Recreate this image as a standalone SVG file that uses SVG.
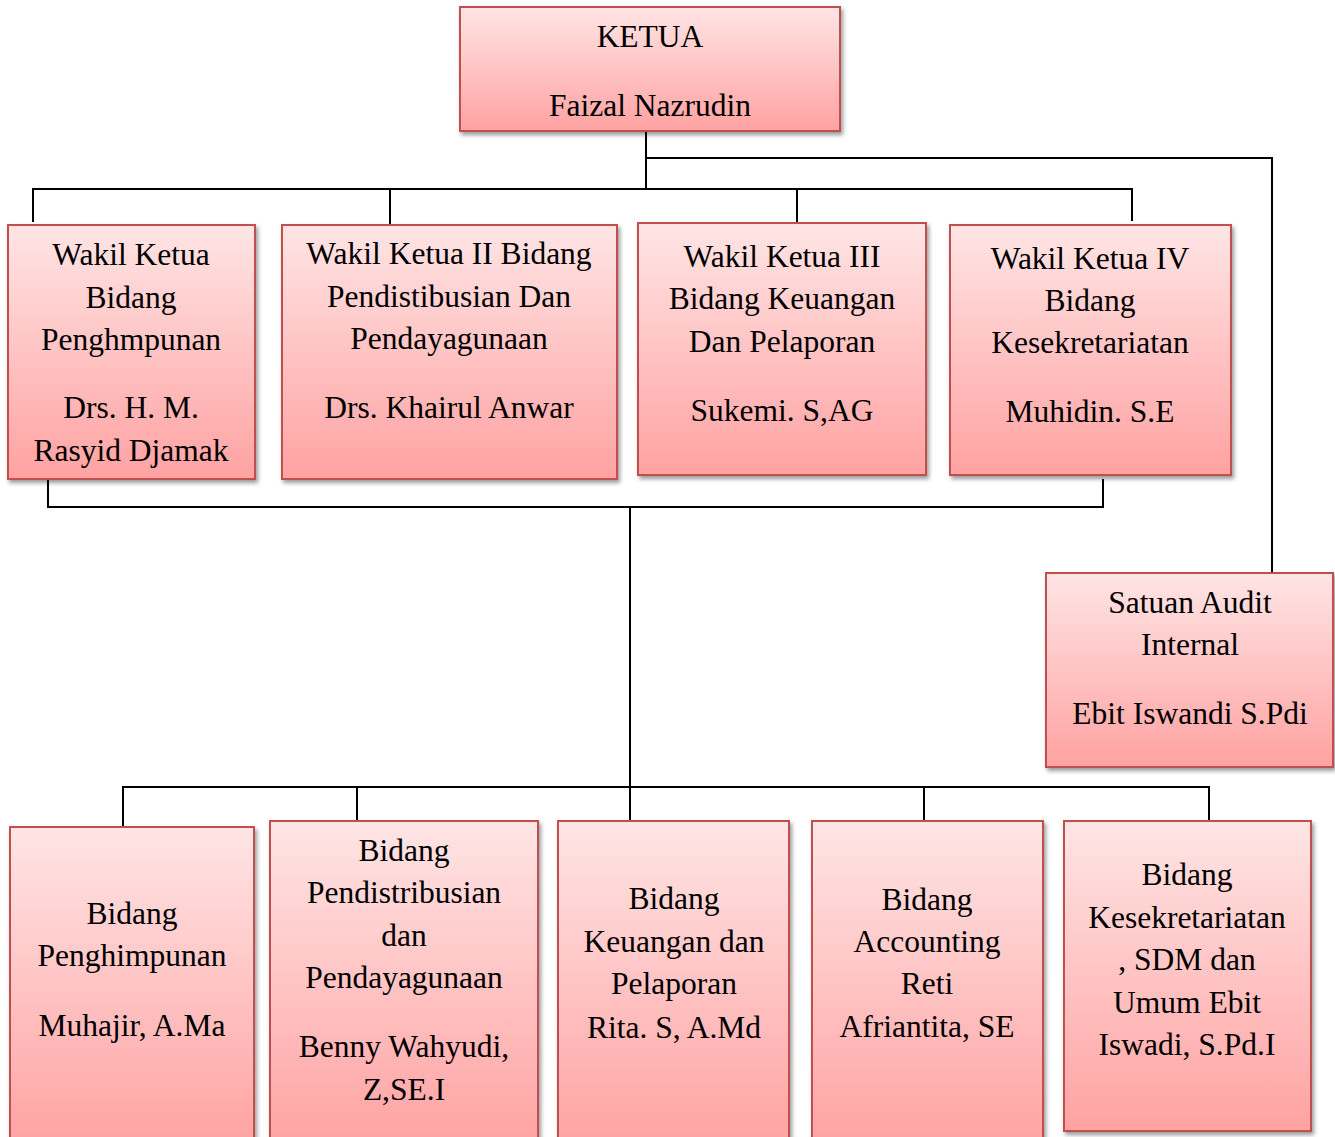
<svg xmlns="http://www.w3.org/2000/svg" width="1335" height="1137" viewBox="0 0 1335 1137">
<defs>
<linearGradient id="g" x1="0" y1="0" x2="0" y2="1">
<stop offset="0" stop-color="#FFE5E5"/>
<stop offset="1" stop-color="#FFA2A2"/>
</linearGradient>
<filter id="sh" x="-10%" y="-10%" width="120%" height="120%">
<feDropShadow dx="2" dy="3" stdDeviation="2" flood-color="#000" flood-opacity="0.4"/>
</filter>
</defs>
<style>
.box{fill:url(#g);stroke:#C0504D;stroke-width:2;filter:url(#sh)}
.t{font-family:"Liberation Serif","Times New Roman",serif;font-size:31.5px;fill:#000;text-anchor:middle}
.c{fill:none;stroke:#000;stroke-width:2}
</style>
<rect width="1335" height="1137" fill="#fff"/>
<g id="connectors">
<path class="c" d="M646,131 V189"/>
<path class="c" d="M646,158 H1272 V573"/>
<path class="c" d="M33,222 V189 H1132 V221"/>
<path class="c" d="M390,189 V225"/>
<path class="c" d="M797,189 V223"/>
<path class="c" d="M48,476 V507 H1103 V479"/>
<path class="c" d="M630,507 V821"/>
<path class="c" d="M123,827 V787 H1209 V821"/>
<path class="c" d="M357,787 V821"/>
<path class="c" d="M924,787 V821"/>
</g>
<g id="ketua">
<rect class="box" x="460" y="7" width="380" height="124"/>
<text class="t" x="650" y="47">KETUA</text>
<text class="t" x="650" y="116">Faizal Nazrudin</text>
</g>
<g id="wakil1">
<rect class="box" x="8" y="225" width="247" height="254"/>
<text class="t" x="131" y="265">Wakil Ketua</text>
<text class="t" x="131" y="308">Bidang</text>
<text class="t" x="131" y="350">Penghmpunan</text>
<text class="t" x="131" y="418">Drs. H. M.</text>
<text class="t" x="131" y="461">Rasyid Djamak</text>
</g>
<g id="wakil2">
<rect class="box" x="282" y="225" width="335" height="254"/>
<text class="t" x="449" y="264">Wakil Ketua II Bidang</text>
<text class="t" x="449" y="307">Pendistibusian Dan</text>
<text class="t" x="449" y="349">Pendayagunaan</text>
<text class="t" x="449" y="418">Drs. Khairul Anwar</text>
</g>
<g id="wakil3">
<rect class="box" x="638" y="223" width="288" height="252"/>
<text class="t" x="782" y="267">Wakil Ketua III</text>
<text class="t" x="782" y="309">Bidang Keuangan</text>
<text class="t" x="782" y="352">Dan Pelaporan</text>
<text class="t" x="782" y="421">Sukemi. S,AG</text>
</g>
<g id="wakil4">
<rect class="box" x="950" y="225" width="281" height="250"/>
<text class="t" x="1090" y="269">Wakil Ketua IV</text>
<text class="t" x="1090" y="311">Bidang</text>
<text class="t" x="1090" y="353">Kesekretariatan</text>
<text class="t" x="1090" y="422">Muhidin. S.E</text>
</g>
<g id="audit">
<rect class="box" x="1046" y="573" width="287" height="194"/>
<text class="t" x="1190" y="613">Satuan Audit</text>
<text class="t" x="1190" y="655">Internal</text>
<text class="t" x="1190" y="724">Ebit Iswandi S.Pdi</text>
</g>
<g id="bidang1">
<rect class="box" x="10" y="827" width="244" height="320"/>
<text class="t" x="132" y="924">Bidang</text>
<text class="t" x="132" y="966">Penghimpunan</text>
<text class="t" x="132" y="1036">Muhajir, A.Ma</text>
</g>
<g id="bidang2">
<rect class="box" x="270" y="821" width="268" height="326"/>
<text class="t" x="404" y="861">Bidang</text>
<text class="t" x="404" y="903">Pendistribusian</text>
<text class="t" x="404" y="946">dan</text>
<text class="t" x="404" y="988">Pendayagunaan</text>
<text class="t" x="404" y="1057">Benny Wahyudi,</text>
<text class="t" x="404" y="1100">Z,SE.I</text>
</g>
<g id="bidang3">
<rect class="box" x="558" y="821" width="231" height="326"/>
<text class="t" x="674" y="909">Bidang</text>
<text class="t" x="674" y="952">Keuangan dan</text>
<text class="t" x="674" y="994">Pelaporan</text>
<text class="t" x="674" y="1038">Rita. S, A.Md</text>
</g>
<g id="bidang4">
<rect class="box" x="812" y="821" width="231" height="326"/>
<text class="t" x="927" y="910">Bidang</text>
<text class="t" x="927" y="952">Accounting</text>
<text class="t" x="927" y="994">Reti</text>
<text class="t" x="927" y="1037">Afriantita, SE</text>
</g>
<g id="bidang5">
<rect class="box" x="1064" y="821" width="247" height="310"/>
<text class="t" x="1187" y="885">Bidang</text>
<text class="t" x="1187" y="928">Kesekretariatan</text>
<text class="t" x="1187" y="970">, SDM dan</text>
<text class="t" x="1187" y="1013">Umum Ebit</text>
<text class="t" x="1187" y="1055">Iswadi, S.Pd.I</text>
</g>
</svg>
